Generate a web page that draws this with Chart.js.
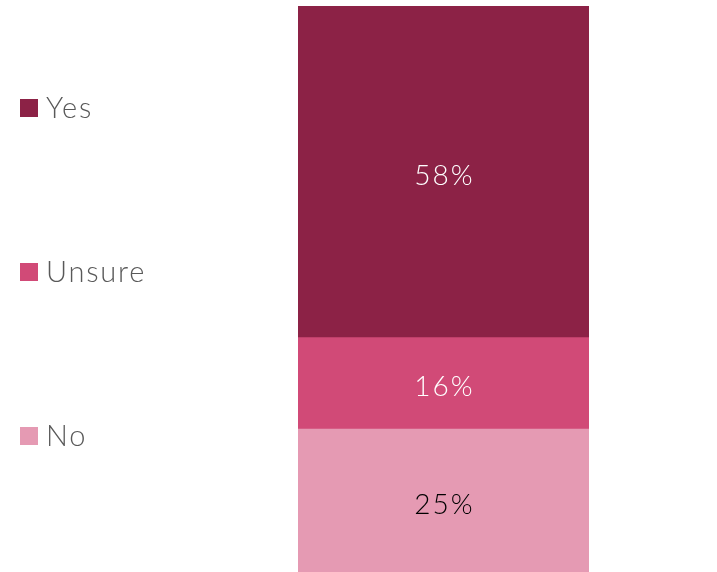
<!DOCTYPE html>
<html>
<head>
<meta charset="utf-8">
<script src="https://cdn.jsdelivr.net/npm/chart.js@4/dist/chart.umd.min.js"></script>
<style>
  html, body { margin: 0; padding: 0; background: #fff; }
  #wrap { width: 717px; height: 572px; }
</style>
</head>
<body>
<div id="wrap"><canvas id="answerChart"></canvas></div>
<script>
// Survey answers, stacked into one bar (top to bottom: Yes, Unsure, No)
const categories = ["All"];
const seriesNames = ["No", "Unsure", "Yes"];
const noValues = [25];
const unsureValues = [16];
const yesValues = [58];
const seriesColors = ["#E59AB3", "#D14A77", "#8C2246"];
const labelColors = ["#000000", "#ffffff", "#ffffff"];

const legendOrder = ["Yes", "Unsure", "No"];
const legendY = [108, 272, 436];

// value labels in the middle of each segment
const segmentLabels = {
  id: "segmentLabels",
  afterDatasetsDraw(chart) {
    const ctx = chart.ctx;
    ctx.save();
    ctx.font = "300 28px Lato";
    ctx.letterSpacing = "2px";
    ctx.textAlign = "center";
    ctx.textBaseline = "middle";
    chart.data.datasets.forEach((ds, i) => {
      chart.getDatasetMeta(i).data.forEach((bar, j) => {
        const mid = (bar.y + bar.base) / 2;
        ctx.fillStyle = labelColors[i];
        ctx.fillText(ds.data[j] + "%", bar.x + 1, mid + 4);
      });
    });
    ctx.restore();
  }
};

// legend on the left, spread over the chart height
const sideLegend = {
  id: "sideLegend",
  afterDraw(chart) {
    const ctx = chart.ctx;
    ctx.save();
    ctx.font = "300 29px Lato";
    ctx.letterSpacing = "1.8px";
    ctx.textBaseline = "middle";
    ctx.textAlign = "left";
    legendOrder.forEach((name, k) => {
      const idx = seriesNames.indexOf(name);
      const y = legendY[k];
      ctx.fillStyle = seriesColors[idx];
      ctx.fillRect(20, y - 9, 18, 18);
      ctx.fillStyle = "#595959";
      ctx.fillText(name, 46, y + 1);
    });
    ctx.restore();
  }
};

new Chart(document.getElementById("answerChart"), {
  type: "bar",
  data: {
    labels: categories,
    datasets: [
      { label: "No", data: noValues, backgroundColor: seriesColors[0] },
      { label: "Unsure", data: unsureValues, backgroundColor: seriesColors[1] },
      { label: "Yes", data: yesValues, backgroundColor: seriesColors[2] }
    ]
  },
  options: {
    responsive: true,
    maintainAspectRatio: false,
    animation: false,
    layout: { padding: { left: 298, right: 128, top: 6, bottom: 0 } },
    datasets: { bar: { barPercentage: 1, categoryPercentage: 1 } },
    scales: {
      x: { stacked: true, display: false },
      y: { stacked: true, display: false, min: 0, max: 99 }
    },
    plugins: {
      legend: { display: false },
      tooltip: { enabled: false }
    }
  },
  plugins: [segmentLabels, sideLegend]
});
</script>
</body>
</html>
